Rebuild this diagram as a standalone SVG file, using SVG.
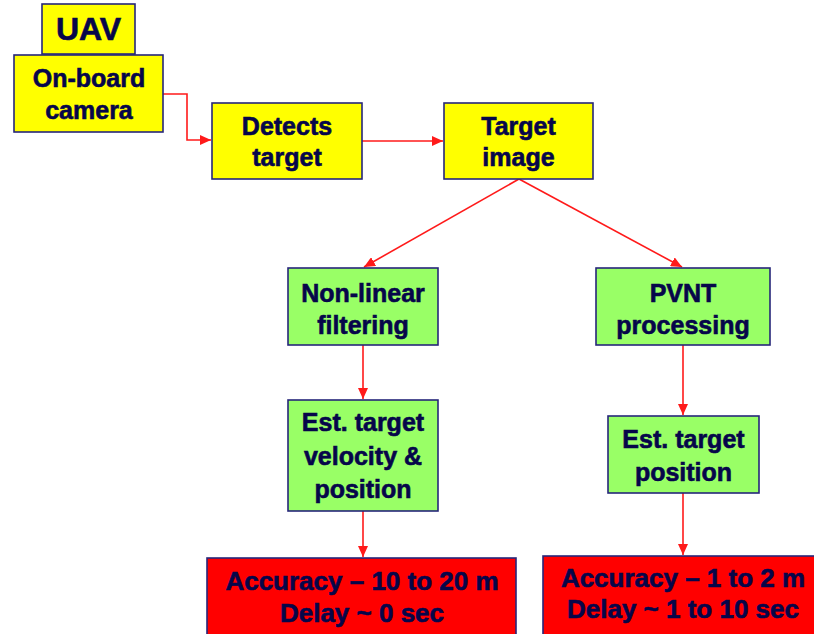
<svg xmlns="http://www.w3.org/2000/svg" width="814" height="634" viewBox="0 0 814 634">
<style>
.box{stroke:#26267a;stroke-width:1.6}
.y{fill:#ffff00}
.g{fill:#99ff66}
.r{fill:#ff0000}
text{font-family:"Liberation Sans",Arial,sans-serif;font-weight:bold;font-size:25px;fill:#06064a;stroke:#06064a;stroke-width:0.6;text-anchor:middle}
.big{font-size:32px}
.res{font-size:26px}
.c{fill:none;stroke:#ff1a1a;stroke-width:1.6}
</style>
<defs>
<marker id="ah" markerUnits="userSpaceOnUse" markerWidth="12" markerHeight="10" refX="11" refY="5" orient="auto">
<path d="M0,0 L11,5 L0,10 z" fill="#ff1a1a"/>
</marker>
</defs>
<rect width="814" height="634" fill="#ffffff"/>
<g id="connectors">
<path class="c" d="M163,94 H187 V140 H211" marker-end="url(#ah)"/>
<path class="c" d="M362,141 H443" marker-end="url(#ah)"/>
<path class="c" d="M519,179 L364,267" marker-end="url(#ah)"/>
<path class="c" d="M519,179 L682,267" marker-end="url(#ah)"/>
<path class="c" d="M363,345 V399" marker-end="url(#ah)"/>
<path class="c" d="M363,511 V557" marker-end="url(#ah)"/>
<path class="c" d="M683,345 V415" marker-end="url(#ah)"/>
<path class="c" d="M683,493 V555" marker-end="url(#ah)"/>
</g>
<g id="uav">
<rect class="box y" x="42" y="4" width="93" height="50"/>
<text class="big" x="88.5" y="40">UAV</text>
</g>
<g id="camera">
<rect class="box y" x="14" y="55" width="149" height="77"/>
<text x="89" y="87">On-board</text>
<text x="89" y="119">camera</text>
</g>
<g id="detects">
<rect class="box y" x="212" y="103" width="150" height="76"/>
<text x="287" y="135">Detects</text>
<text x="287" y="166">target</text>
</g>
<g id="target-image">
<rect class="box y" x="444" y="103" width="149" height="76"/>
<text x="518.5" y="135">Target</text>
<text x="518.5" y="166">image</text>
</g>
<g id="nonlinear">
<rect class="box g" x="288" y="268" width="150" height="77"/>
<text x="363" y="302">Non-linear</text>
<text x="363" y="334">filtering</text>
</g>
<g id="pvnt">
<rect class="box g" x="596" y="268" width="174" height="77"/>
<text x="683" y="302">PVNT</text>
<text x="683" y="334">processing</text>
</g>
<g id="est-velocity">
<rect class="box g" x="288" y="400" width="150" height="111"/>
<text x="363" y="431">Est. target</text>
<text x="363" y="465">velocity &amp;</text>
<text x="363" y="498">position</text>
</g>
<g id="est-position">
<rect class="box g" x="608" y="416" width="151" height="77"/>
<text x="683.5" y="448">Est. target</text>
<text x="683.5" y="481">position</text>
</g>
<g id="result-left">
<rect class="box r" x="207" y="558" width="309" height="80"/>
<text class="res" x="362" y="590">Accuracy – 10 to 20 m</text>
<text class="res" x="362" y="622">Delay ~ 0 sec</text>
</g>
<g id="result-right">
<rect class="box r" x="543" y="556" width="280" height="82"/>
<text class="res" x="683" y="587">Accuracy – 1 to 2 m</text>
<text class="res" x="683" y="618">Delay ~ 1 to 10 sec</text>
</g>
</svg>
